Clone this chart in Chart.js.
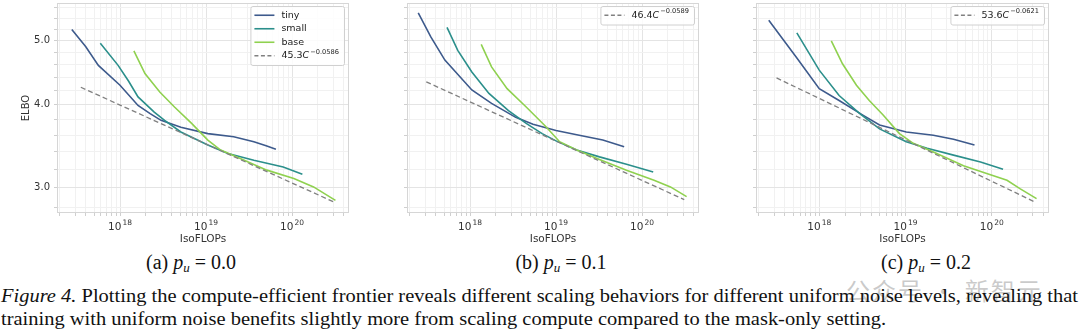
<!DOCTYPE html>
<html>
<head>
<meta charset="utf-8">
<script src="https://cdn.jsdelivr.net/npm/chart.js"></script>
<style>
  body { margin: 0; width: 1080px; height: 336px; background: #fff; position: relative; overflow: hidden; }
  .panel { position: absolute; top: 0; height: 248px; }
  .sub { position: absolute; top: 251px; font: 20px "Liberation Serif"; white-space: nowrap; transform: translateX(-50%); color: #111; }
  .sub sub { font-size: 13px; vertical-align: -3px; }
  .cap { position: absolute; left: 1px; font: 19px "Liberation Serif"; white-space: nowrap; transform-origin: 0 0; color: #111; }
  .wm { position: absolute; left: 846px; top: 272px; font: 24px "Noto Sans CJK SC"; color: rgba(150,150,150,0.5); letter-spacing: 2px; }
</style>
</head>
<body>
<div class="panel" id="pa"><canvas id="ca"></canvas></div>
<div class="panel" id="pb"><canvas id="cb"></canvas></div>
<div class="panel" id="pc"><canvas id="cc"></canvas></div>

<div class="sub" style="left:191px">(a) <i>p</i><sub><i>u</i></sub> = 0.0</div>
<div class="sub" style="left:561px">(b) <i>p</i><sub><i>u</i></sub> = 0.1</div>
<div class="sub" style="left:926px">(c) <i>p</i><sub><i>u</i></sub> = 0.2</div>

<div class="wm">公众号 · 新智元</div>
<div class="cap" id="cap1" style="top:285px"><i>Figure 4.</i> Plotting the compute-efficient frontier reveals different scaling behaviors for different uniform noise levels, revealing that</div>
<div class="cap" id="cap2" style="top:308px">training with uniform noise benefits slightly more from scaling compute compared to the mask-only setting.</div>

<script>
// [IsoFLOPs, ELBO]
const tinyA  = [[2.75e17,5.19],[4.0e17,4.89],[5.6e17,4.585],[1.0e18,4.28],[1.62e18,3.99],[2.24e18,3.88],[3.0e18,3.79],[5.1e18,3.70],[1.05e19,3.62],[2.1e19,3.58],[3.6e19,3.52],[5.0e19,3.47],[6.5e19,3.43]];
const smallA = [[5.9e17,4.95],[9.5e17,4.585],[1.26e18,4.34],[1.62e18,4.11],[2.5e18,3.90],[3.3e18,3.79],[5.1e18,3.64],[1.05e19,3.48],[1.8e19,3.38],[3.6e19,3.30],[7.9e19,3.225],[1.32e20,3.145]];
const baseA  = [[1.45e18,4.82],[1.95e18,4.456],[2.9e18,4.18],[4.3e18,3.97],[6.8e18,3.75],[1.05e19,3.54],[1.48e19,3.42],[2.5e19,3.32],[5.1e19,3.19],[1.05e20,3.10],[1.78e20,3.01],[3.2e20,2.873]];
const fitA   = [[3.5e17,4.25],[3.2e20,2.85]];

const tinyB  = [[2.5e17,5.50],[3.5e17,5.06],[5.1e17,4.67],[1.05e18,4.21],[1.78e18,4.02],[3.4e18,3.83],[5.4e18,3.74],[1.0e19,3.66],[1.86e19,3.60],[3.5e19,3.54],[6.2e19,3.46]];
const smallB = [[5.4e17,5.23],[7.2e17,4.83],[1.05e18,4.48],[1.66e18,4.16],[2.8e18,3.92],[4.5e18,3.75],[6.9e18,3.62],[1.0e19,3.53],[1.74e19,3.42],[3.2e19,3.34],[6.6e19,3.255],[1.35e20,3.17]];
const baseB  = [[1.35e18,4.93],[1.78e18,4.56],[2.7e18,4.23],[4.5e18,3.97],[7.6e18,3.71],[1.1e19,3.52],[1.74e19,3.42],[3.2e19,3.31],[6.6e19,3.19],[1.38e20,3.08],[2.14e20,3.01],[3.3e20,2.91]];
const fitB   = [[3.1e17,4.33],[3.1e20,2.88]];

const tinyC  = [[2.6e17,5.36],[5.4e17,4.72],[1.0e18,4.23],[1.7e18,4.06],[3.2e18,3.86],[5.0e18,3.73],[1.02e19,3.64],[2.1e19,3.60],[3.6e19,3.55],[6.3e19,3.48]];
const smallC = [[5.5e17,5.13],[1.0e18,4.51],[1.7e18,4.13],[2.95e18,3.88],[5.0e18,3.68],[1.02e19,3.52],[1.78e19,3.44],[3.6e19,3.36],[7.4e19,3.28],[1.35e20,3.20]];
const baseC  = [[1.38e18,4.99],[1.86e18,4.61],[2.7e18,4.28],[3.8e18,4.06],[5.5e18,3.86],[8.5e18,3.62],[1.23e19,3.50],[2.3e19,3.38],[4.7e19,3.24],[8.9e19,3.15],[1.5e20,3.08],[2.14e20,2.99],[3.3e20,2.89]];
const fitC   = [[3.2e17,4.39],[3.1e20,2.86]];

const seriesNames = ['tiny', 'small', 'base'];
const fitCoefs = ['45.3', '46.4', '53.6'];
const fitExps = ['\u22120.0586', '\u22120.0589', '\u22120.0621'];

const xMajor = [1e18, 1e19, 1e20];
const xMajorExps = ['18', '19', '20'];
const xMinor = [2e17,3e17,4e17,5e17,6e17,7e17,8e17,9e17, 2e18,3e18,4e18,5e18,6e18,7e18,8e18,9e18, 2e19,3e19,4e19,5e19,6e19,7e19,8e19,9e19, 2e20,3e20,4e20];
const yMajor = [3.0, 4.0, 5.0];
const yMajorLabels = ['3.0', '4.0', '5.0'];
const yMinor = [2.8, 3.2, 3.4, 3.6, 3.8, 4.2, 4.4, 4.6, 4.8, 5.2, 5.4, 5.6];

const colors = ['#3d5a8c', '#2b8f8b', '#8fd14f'];
const fitColor = '#808080';
const font = '"DejaVu Sans"';

const isMajor = (list, v) => list.some(m => Math.abs(m - v) / m < 1e-6);

const frameLegend = {
  id: 'frameLegend',
  afterDraw(chart, args, o) {
    const { ctx, chartArea: a } = chart;
    ctx.save();
    ctx.strokeStyle = '#d6d6d6';
    ctx.lineWidth = 1;
    ctx.strokeRect(a.left + 0.5, a.top + 0.5, a.width - 1, a.height - 1);

    // x tick labels as 10 with a raised exponent
    const xs = chart.scales.x;
    ctx.fillStyle = '#333';
    ctx.textBaseline = 'alphabetic';
    ctx.textAlign = 'left';
    xMajor.forEach((v, i) => {
      const px = xs.getPixelForValue(v);
      ctx.font = `10.5px ${font}`;
      const w1 = ctx.measureText('10').width;
      ctx.font = `7.5px ${font}`;
      const w2 = ctx.measureText(xMajorExps[i]).width;
      const x0 = px - (w1 + w2 + 1) / 2;
      const base = a.bottom + 17;
      ctx.font = `10.5px ${font}`;
      ctx.fillText('10', x0, base);
      ctx.font = `7.5px ${font}`;
      ctx.fillText(xMajorExps[i], x0 + w1 + 1, base - 5);
    });

    // legend box
    const fs = 9.5, rowH = 13.5;
    const rows = o.full ? 4 : 1;
    ctx.font = `${fs}px ${font}`;
    let tw = 0;
    if (o.full) seriesNames.forEach(n => tw = Math.max(tw, ctx.measureText(n).width));
    let fw = ctx.measureText(o.coef).width + ctx.measureText('C').width + 1;
    ctx.font = `${fs * 0.7}px ${font}`;
    fw += ctx.measureText(o.exp).width;
    tw = Math.max(tw, fw);
    const bw = 4 + 20 + 7 + tw + 5, bh = rows * rowH + 5;
    const bx = a.right - 5 - bw, by = a.top + 3;
    ctx.fillStyle = 'rgba(255,255,255,0.85)';
    ctx.strokeStyle = '#d0d0d0';
    ctx.beginPath();
    ctx.roundRect(bx + 0.5, by + 0.5, bw, bh, 2);
    ctx.fill(); ctx.stroke();

    ctx.textBaseline = 'middle';
    for (let i = 0; i < rows; i++) {
      const cy = by + 2.5 + rowH * (i + 0.5);
      const isFit = i === rows - 1;
      ctx.strokeStyle = isFit ? fitColor : colors[i];
      ctx.lineWidth = isFit ? 1.3 : 1.6;
      ctx.setLineDash(isFit ? [4, 2.5] : []);
      ctx.beginPath();
      ctx.moveTo(bx + 4, cy); ctx.lineTo(bx + 24, cy);
      ctx.stroke();
      ctx.setLineDash([]);
      ctx.fillStyle = '#222';
      let tx = bx + 31;
      ctx.font = `${fs}px ${font}`;
      if (!isFit) {
        ctx.fillText(seriesNames[i], tx, cy);
      } else {
        ctx.fillText(o.coef, tx, cy);
        tx += ctx.measureText(o.coef).width;
        ctx.font = `italic ${fs}px ${font}`;
        ctx.fillText('C', tx, cy);
        tx += ctx.measureText('C').width + 1;
        ctx.font = `${fs * 0.7}px ${font}`;
        ctx.fillText(o.exp, tx, cy - 3.5);
      }
    }
    ctx.restore();
  }
};

const panels = [
  { id: 'pa', canvas: 'ca', left: 0,   width: 356, axisW: 57, padR: 7,  sets: [tinyA, smallA, baseA, fitA], full: true,  yLabels: true },
  { id: 'pb', canvas: 'cb', left: 360, width: 345, axisW: 47, padR: 6,  sets: [tinyB, smallB, baseB, fitB], full: false, yLabels: false },
  { id: 'pc', canvas: 'cc', left: 720, width: 360, axisW: 36, padR: 31, sets: [tinyC, smallC, baseC, fitC], full: false, yLabels: false }
];

panels.forEach((p, k) => {
  const div = document.getElementById(p.id);
  div.style.left = p.left + 'px';
  div.style.width = p.width + 'px';

  const datasets = p.sets.map((s, i) => {
    const isFit = i === 3;
    return {
      label: isFit ? 'fit' : seriesNames[i],
      data: s.map(([x, y]) => ({ x, y })),
      borderColor: isFit ? fitColor : colors[i],
      borderWidth: isFit ? 1.3 : 1.6,
      borderDash: isFit ? [5, 3] : [],
      pointRadius: 0,
      tension: 0,
      fill: false,
      order: isFit ? 0 : 3 - i
    };
  });

  new Chart(document.getElementById(p.canvas), {
    type: 'line',
    data: { datasets },
    options: {
      animation: false,
      responsive: true,
      maintainAspectRatio: false,
      layout: { padding: { top: 3, right: p.padR, left: 0, bottom: 0 } },
      plugins: {
        legend: { display: false },
        tooltip: { enabled: false },
        frameLegend: { full: p.full, coef: fitCoefs[k], exp: fitExps[k] }
      },
      scales: {
        x: {
          type: 'logarithmic',
          min: 1.85e17,
          max: 4.6e20,
          afterBuildTicks: ax => { ax.ticks = xMajor.concat(xMinor).sort((a, b) => a - b).map(v => ({ value: v })); },
          afterFit: s => { s.height = 35; s.paddingLeft = 0; s.paddingRight = 0; },
          ticks: { autoSkip: false, maxRotation: 0, callback: () => '' },
          grid: {
            color: c => (c.tick && isMajor(xMajor, c.tick.value)) ? '#e4e4e4' : '#f1f1f1',
            tickColor: '#cfcfcf',
            tickLength: 3
          },
          border: { display: false },
          title: { display: true, text: 'IsoFLOPs', color: '#333', font: { family: 'DejaVu Sans', size: 10.5 }, padding: { top: 0, bottom: 2 } }
        },
        y: {
          type: 'logarithmic',
          min: 2.75,
          max: 5.69,
          afterBuildTicks: ax => { ax.ticks = yMajor.concat(yMinor).sort((a, b) => a - b).map(v => ({ value: v })); },
          afterFit: s => { s.width = p.axisW; s.paddingTop = 0; s.paddingBottom = 0; },
          ticks: {
            autoSkip: false,
            padding: 4,
            color: '#333',
            font: { family: 'DejaVu Sans', size: 10 },
            callback: v => { if (!p.yLabels) return ''; const i = yMajor.findIndex(m => Math.abs(m - v) < 1e-6); return i >= 0 ? yMajorLabels[i] : ''; }
          },
          grid: {
            color: c => (c.tick && isMajor(yMajor, c.tick.value)) ? '#e4e4e4' : '#f1f1f1',
            tickColor: '#cfcfcf',
            tickLength: 3
          },
          border: { display: false },
          title: { display: p.yLabels, text: 'ELBO', color: '#333', font: { family: 'DejaVu Sans', size: 10 }, padding: { top: 20, bottom: 0 } }
        }
      }
    },
    plugins: [frameLegend]
  });
});

// fit the caption lines to the page width
const c1 = document.getElementById('cap1'), c2 = document.getElementById('cap2');
const k = 1077 / c1.getBoundingClientRect().width;
c1.style.transform = `scaleX(${k})`;
c2.style.transform = `scaleX(${k})`;
</script>
</body>
</html>
